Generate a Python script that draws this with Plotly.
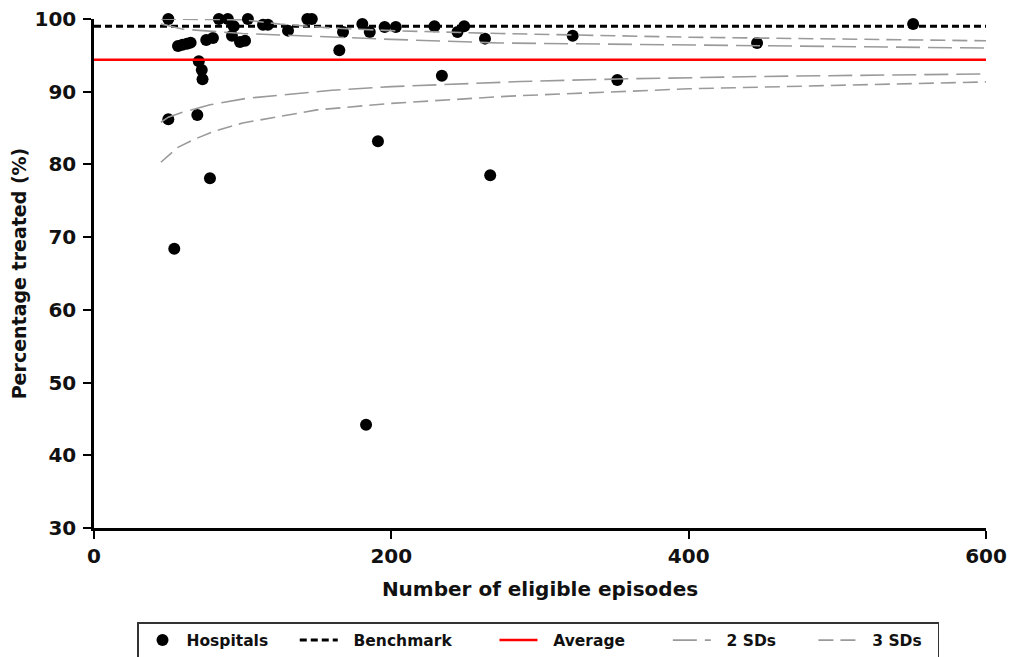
import plotly.graph_objects as go

# Hospitals: number of eligible episodes vs percentage treated
hosp_n = [50, 50, 54, 56.5, 59.5, 62.5, 65, 70.5, 72.5, 73, 69.5, 78, 75.5, 80, 84, 90,
          94, 92.8, 98.2, 101.6, 103.5, 113.7, 117, 130.5, 143.5, 146.5, 165, 167.5,
          180.5, 183, 185.5, 191, 195.5, 203, 229, 234, 244.5, 249, 263, 266.5, 322,
          352, 446, 551]
hosp_v = [100, 86.2, 68.4, 96.3, 96.45, 96.6, 96.75, 94.2, 93.0, 91.7, 86.8, 78.1, 97.1,
          97.4, 100, 100, 99.0, 97.7, 96.85, 97.0, 100, 99.2, 99.2, 98.4, 100, 100, 95.7,
          98.2, 99.3, 44.2, 98.2, 83.2, 98.9, 98.9, 99.0, 92.2, 98.2, 99.0, 97.3, 78.5,
          97.7, 91.6, 96.7, 99.3]

benchmark = 99.0
average = 94.4
x_span = [0, 600]

upper3_n = [45, 60, 80, 100, 125, 160, 200, 273, 400, 500, 600]
upper3_v = [100, 100, 100, 99.9, 99.3, 98.75, 98.4, 98.0, 97.5, 97.2, 97.0]
upper2_n = [45, 60, 80, 100, 125, 170, 200, 273, 400, 500, 600]
upper2_v = [99.3, 98.6, 98.3, 98.0, 97.8, 97.4, 97.2, 96.7, 96.4, 96.2, 96.0]
lower2_n = [45, 50, 60, 78, 103, 160, 200, 287, 352, 450, 600]
lower2_v = [85.8, 86.5, 87.2, 88.2, 89.1, 90.2, 90.7, 91.4, 91.75, 92.1, 92.45]
lower3_n = [45, 56, 68, 80, 100, 150, 200, 280, 400, 500, 600]
lower3_v = [80.3, 82.3, 83.5, 84.5, 85.7, 87.5, 88.4, 89.4, 90.4, 90.9, 91.35]

y_ticks = [30, 40, 50, 60, 70, 80, 90, 100]
x_ticks = [0, 200, 400, 600]

FONT = "DejaVu Sans"
GRAY = "#9a9a9a"
TXT = "#111"
NB = "\u00a0"

fig = go.Figure()

fig.add_trace(go.Scatter(x=hosp_n, y=hosp_v, mode="markers", name="Hospitals" + NB * 4,
                         marker=dict(color="black", size=12), cliponaxis=False))
fig.add_trace(go.Scatter(x=x_span, y=[benchmark, benchmark], mode="lines",
                         name=NB * 2 + "Benchmark" + NB * 7,
                         line=dict(color="black", width=3, dash="7px,4px")))
fig.add_trace(go.Scatter(x=x_span, y=[average, average], mode="lines",
                         name=NB * 2 + "Average" + NB * 7,
                         line=dict(color="#ff0000", width=2.5)))
fig.add_trace(go.Scatter(x=lower2_n, y=lower2_v, mode="lines",
                         name=NB * 2 + "2 SDs" + NB * 6,
                         legendgroup="2sd",
                         line=dict(color=GRAY, width=1.6, dash="24px,8px")))
fig.add_trace(go.Scatter(x=upper2_n, y=upper2_v, mode="lines", name="2 SDs",
                         legendgroup="2sd", showlegend=False,
                         line=dict(color=GRAY, width=1.6, dash="24px,8px")))
fig.add_trace(go.Scatter(x=lower3_n, y=lower3_v, mode="lines",
                         name=NB * 2 + "3 SDs" + NB * 2,
                         legendgroup="3sd",
                         line=dict(color=GRAY, width=1.6, dash="15px,7px")))
fig.add_trace(go.Scatter(x=upper3_n, y=upper3_v, mode="lines", name="3 SDs",
                         legendgroup="3sd", showlegend=False,
                         line=dict(color=GRAY, width=1.6, dash="15px,7px")))

axis_common = dict(showgrid=False, zeroline=False, showline=True, linecolor="black",
                   linewidth=2.5, ticks="outside", ticklen=8, tickwidth=2,
                   tickcolor="black",
                   tickfont=dict(family=FONT, size=20, color=TXT, weight="bold"))

fig.update_xaxes(range=[0, 600], tickvals=x_ticks, **axis_common,
                 title=dict(text="Number of eligible episodes",
                            font=dict(family=FONT, size=20, color=TXT, weight="bold"),
                            standoff=16))
fig.update_yaxes(range=[30, 100], tickvals=y_ticks, ticklabelstandoff=3, **axis_common,
                 title=dict(text="Percentage treated (%)",
                            font=dict(family=FONT, size=19, color=TXT, weight="bold"),
                            standoff=3))

fig.update_layout(
    width=1009, height=657,
    margin=dict(l=94, r=23, t=19, b=129, autoexpand=False),
    plot_bgcolor="white", paper_bgcolor="white",
    showlegend=True,
    legend=dict(orientation="h", x=(137 - 94) / 892, xanchor="left",
                y=-(622 - 528) / 509, yanchor="top",
                bordercolor="#333", borderwidth=1.5,
                font=dict(family=FONT, size=15.5, color=TXT, weight="bold"),
                itemwidth=38, traceorder="normal"),
)

fig.write_html("out.html")
